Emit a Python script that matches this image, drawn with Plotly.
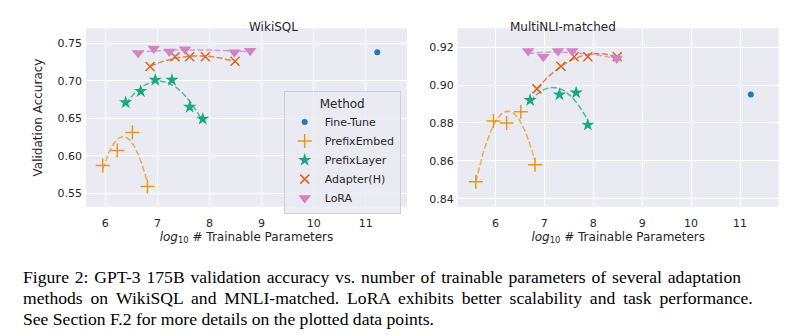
import numpy as np
import plotly.graph_objects as go

methods = ["Fine-Tune", "PrefixEmbed", "PrefixLayer", "Adapter(H)", "LoRA"]

# WikiSQL (x = log10 # trainable params, y = validation accuracy)
wiki_ft_x = [11.22]
wiki_ft_y = [0.738]
wiki_pe_x = [5.95, 6.23, 6.52, 6.81]
wiki_pe_y = [0.587, 0.607, 0.631, 0.559]
wiki_pl_x = [6.39, 6.68, 6.96, 7.28, 7.62, 7.87]
wiki_pl_y = [0.671, 0.686, 0.701, 0.701, 0.665, 0.649]
wiki_ad_x = [6.86, 7.34, 7.62, 7.92, 8.49]
wiki_ad_y = [0.719, 0.732, 0.732, 0.732, 0.726]
wiki_lo_x = [6.63, 6.93, 7.23, 7.53, 8.48, 8.78]
wiki_lo_y = [0.737, 0.743, 0.739, 0.742, 0.738, 0.740]

# MultiNLI-matched
mnli_ft_x = [11.22]
mnli_ft_y = [0.895]
mnli_pe_x = [5.60, 5.96, 6.23, 6.52, 6.81]
mnli_pe_y = [0.849, 0.881, 0.880, 0.886, 0.858]
mnli_pl_x = [6.71, 7.31, 7.65, 7.89]
mnli_pl_y = [0.892, 0.895, 0.896, 0.879]
mnli_ad_x = [6.85, 7.34, 7.61, 7.89, 8.49]
mnli_ad_y = [0.898, 0.910, 0.915, 0.915, 0.915]
mnli_lo_x = [6.67, 6.98, 7.28, 7.57, 8.48]
mnli_lo_y = [0.918, 0.915, 0.918, 0.918, 0.914]

x_ticks = [6, 7, 8, 9, 10, 11]
x_tick_text = ["6", "7", "8", "9", "10", "11"]
wiki_y_ticks = [0.55, 0.60, 0.65, 0.70, 0.75]
mnli_y_ticks = [0.84, 0.86, 0.88, 0.90, 0.92]

caption_lines = [
    "Figure 2: GPT-3 175B validation accuracy vs. number of trainable parameters of several adaptation",
    "methods on WikiSQL and MNLI-matched. LoRA exhibits better scalability and task performance.",
    "See Section F.2 for more details on the plotted data points.",
]

colors = {"Fine-Tune": "#1f7ab8", "PrefixEmbed": "#e39a1c", "PrefixLayer": "#1aa97c",
          "Adapter(H)": "#d9641a", "LoRA": "#d283c4"}
symbols = {"Fine-Tune": "circle", "PrefixEmbed": "cross-thin", "PrefixLayer": "star",
           "Adapter(H)": "x-thin", "LoRA": "triangle-down"}
sizes = {"Fine-Tune": 6, "PrefixEmbed": 10, "PrefixLayer": 10, "Adapter(H)": 9, "LoRA": 11}

panels = [
    ("x", "y", {"Fine-Tune": (wiki_ft_x, wiki_ft_y), "PrefixEmbed": (wiki_pe_x, wiki_pe_y),
                "PrefixLayer": (wiki_pl_x, wiki_pl_y), "Adapter(H)": (wiki_ad_x, wiki_ad_y),
                "LoRA": (wiki_lo_x, wiki_lo_y)}, True),
    ("x2", "y2", {"Fine-Tune": (mnli_ft_x, mnli_ft_y), "PrefixEmbed": (mnli_pe_x, mnli_pe_y),
                  "PrefixLayer": (mnli_pl_x, mnli_pl_y), "Adapter(H)": (mnli_ad_x, mnli_ad_y),
                  "LoRA": (mnli_lo_x, mnli_lo_y)}, False),
]

fig = go.Figure()
for xa, ya, data, show in panels:
    # quadratic trend lines (as in the original regression plot)
    for m in methods[1:]:
        xs, ys = data[m]
        coef = np.polyfit(xs, ys, 2)
        xf = np.linspace(min(xs), max(xs), 60)
        fig.add_trace(go.Scatter(x=xf, y=np.polyval(coef, xf), mode="lines", xaxis=xa, yaxis=ya,
                                 line=dict(color=colors[m], width=1.5, dash="6px,2.5px"),
                                 opacity=0.75, showlegend=False, hoverinfo="skip"))
    for m in methods:
        xs, ys = data[m]
        thin = symbols[m].endswith("thin")
        fig.add_trace(go.Scatter(x=xs, y=ys, mode="markers", name=m, xaxis=xa, yaxis=ya,
                                 showlegend=show,
                                 marker=dict(symbol=symbols[m], size=sizes[m], color=colors[m],
                                             line=dict(color=colors[m], width=1.5 if thin else 0))))

W, H = 809, 335
axis_common = dict(showgrid=True, gridcolor="white", gridwidth=1, zeroline=False,
                   showline=False, tickfont=dict(size=11, color="#262626"))
xaxis_common = dict(tickmode="array", tickvals=x_ticks, ticktext=x_tick_text,
                    ticks="outside", ticklen=6, tickcolor="rgba(0,0,0,0)",
                    ticklabeloverflow="allow", **axis_common)

fig.update_layout(
    width=W, height=H, margin=dict(l=0, r=0, t=0, b=0),
    paper_bgcolor="white", plot_bgcolor="#EAEAF2",
    font=dict(family="DejaVu Sans", color="#262626", size=11),
    xaxis=dict(domain=[86 / W, 407 / W], range=[5.63, 11.79], anchor="y",
               title=dict(text="<i>log</i><sub>10</sub> # Trainable Parameters",
                          font=dict(size=12), standoff=2), **xaxis_common),
    yaxis=dict(domain=[1 - 206.7 / H, 1 - 28.3 / H], range=[0.532, 0.770], ticks="",
               tickvals=wiki_y_ticks, tickformat=".2f", anchor="x", ticklabelstandoff=3,
               title=dict(text="Validation Accuracy", font=dict(size=12), standoff=12),
               **axis_common),
    xaxis2=dict(domain=[457.7 / W, 778.7 / W], range=[5.23, 11.79], anchor="y2",
                title=dict(text="<i>log</i><sub>10</sub> # Trainable Parameters",
                           font=dict(size=12), standoff=2), **xaxis_common),
    yaxis2=dict(domain=[1 - 206.7 / H, 1 - 28.3 / H], range=[0.8358, 0.930], ticks="",
                tickvals=mnli_y_ticks, tickformat=".2f", anchor="x2", ticklabelstandoff=3,
                **axis_common),
    legend=dict(x=400.7 / W, xanchor="right", y=1 - 91 / H, yanchor="top",
                bgcolor="rgba(234,234,242,0.85)", bordercolor="#cfcfd6", borderwidth=1,
                tracegroupgap=0, itemwidth=30,
                font=dict(size=11, color="#262626"),
                title=dict(text="Method", side="top center", font=dict(size=12))),
    showlegend=True,
)

fig.add_annotation(text="WikiSQL", x=(86 + 407) / 2 / W, y=1 - 17.5 / H, xref="paper", yref="paper",
                   showarrow=False, font=dict(size=12, color="#262626"))
fig.add_annotation(text="MultiNLI-matched", x=(457.7 + 778.7) / 2 / W, y=1 - 17.5 / H, xref="paper",
                   yref="paper", showarrow=False, font=dict(size=12, color="#262626"))

# justify the first two caption lines by widening the word spaces slightly
space_pad = ["\u200a", "\u2009", ""]
cap_centers = [277, 298, 318.5]
for line, pad, cy in zip(caption_lines, space_pad, cap_centers):
    fig.add_annotation(text=line.replace(" ", " " + pad), x=21 / W, y=1 - cy / H,
                       xref="paper", yref="paper", showarrow=False, xanchor="left", yanchor="middle",
                       font=dict(family="Liberation Serif", size=17.6, color="black"))

fig.write_html("out.html")
